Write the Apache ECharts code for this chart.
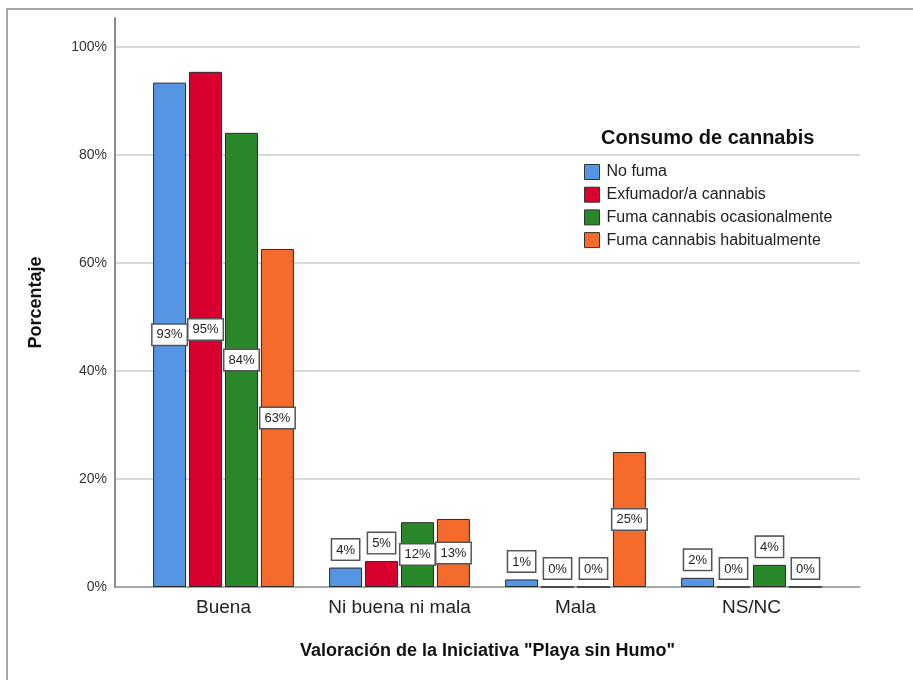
<!DOCTYPE html>
<html>
<head>
<meta charset="utf-8">
<script src="https://cdn.jsdelivr.net/npm/echarts@6/dist/echarts.min.js"></script>
<style>
  html, body { margin: 0; padding: 0; background: #fff; }
  #chart { width: 913px; height: 680px; }
</style>
</head>
<body>
<div id="chart"></div>
<script>
// categorías del eje X
const categories = ['Buena', 'Ni buena ni mala', 'Mala', 'NS/NC'];
const seriesNames = ['No fuma', 'Exfumador/a cannabis', 'Fuma cannabis ocasionalmente', 'Fuma cannabis habitualmente'];
const colors = ['#5595e4', '#d9002f', '#2b872b', '#f46b2b'];

// porcentajes por grupo
const noFuma = [93.4, 3.6, 1.4, 1.7];
const exfumador = [95.4, 4.8, 0, 0];
const ocasional = [84.1, 12.0, 0, 4.1];
const habitual = [62.6, 12.6, 25.0, 0];

const yTicks = [0, 20, 40, 60, 80, 100];

const chart = echarts.init(document.getElementById('chart'));
const font = '"Liberation Sans", Arial, sans-serif';

// eje Y llega un poco por encima del 100%
const yTop = 105.37;

function buildSeries(name, values, color) {
  return {
    name: name,
    type: 'bar',
    xAxisIndex: 1,
    yAxisIndex: 1,
    barCategoryGap: '20%',
    barGap: '9%',
    itemStyle: { color: color, borderColor: '#2a2a2a', borderWidth: 1 },
    emphasis: { disabled: true },
    label: {
      show: true,
      formatter: p => Math.round(p.value) + '%',
      fontFamily: font,
      fontSize: 13,
      color: '#222',
      backgroundColor: '#fff',
      borderColor: '#555',
      borderWidth: 1.5,
      padding: [4, 4, 3, 4],
      distance: 8
    },
    data: values.map(v => ({
      value: v,
      label: { position: v >= 10 ? 'inside' : 'top' }
    }))
  };
}

const option = {
  backgroundColor: '#fff',
  animation: false,
  title: {
    text: 'Consumo de cannabis',
    left: 596,
    top: 123,
    textStyle: { fontFamily: font, fontSize: 20, fontWeight: 'bold', color: '#111' }
  },
  legend: {
    orient: 'vertical',
    left: 579,
    top: 159,
    icon: 'rect',
    itemWidth: 15,
    itemHeight: 15,
    itemGap: 6.7,
    data: seriesNames,
    itemStyle: { borderColor: '#333', borderWidth: 1 },
    textStyle: { fontFamily: font, fontSize: 16, color: '#222', padding: [0, 0, 0, 2] }
  },
  graphic: [{
    type: 'rect',
    shape: { x: 7, y: 9, width: 1000, height: 1000 },
    style: { fill: 'none', stroke: '#a8a8a8', lineWidth: 2 },
    silent: true
  }],
  grid: [
    { left: 115, right: 53, top: 18, bottom: 93 },
    { left: 135.5, right: 73.5, top: 18, bottom: 93 }
  ],
  xAxis: [{
    gridIndex: 0,
    type: 'value',
    min: 0,
    max: 1,
    axisLine: { show: true, lineStyle: { color: '#8a8a8a', width: 1.5 } },
    axisTick: { show: false },
    axisLabel: { show: false },
    splitLine: { show: false }
  }, {
    gridIndex: 1,
    type: 'category',
    data: categories,
    axisLine: { show: false },
    axisTick: { show: false },
    axisLabel: { interval: 0, fontFamily: font, fontSize: 19, color: '#222', margin: 11 },
    name: 'Valoración de la Iniciativa "Playa sin Humo"',
    nameLocation: 'middle',
    nameGap: 55,
    nameTextStyle: { fontFamily: font, fontSize: 18, fontWeight: 'bold', color: '#111' }
  }],
  yAxis: [{
    gridIndex: 0,
    type: 'value',
    min: 0,
    max: yTop,
    interval: 20,
    axisLine: { show: true, lineStyle: { color: '#8a8a8a', width: 2 } },
    axisTick: { show: false },
    axisLabel: {
      showMaxLabel: false,
      fontFamily: font,
      fontSize: 14,
      color: '#333',
      margin: 8,
      formatter: v => (yTicks.indexOf(v) >= 0 ? v + '%' : '')
    },
    splitLine: { show: true, showMaxLine: false, showMinLine: false, lineStyle: { color: '#cccccc', width: 1.5 } },
    name: 'Porcentaje',
    nameLocation: 'middle',
    nameGap: 70,
    nameTextStyle: { fontFamily: font, fontSize: 18, fontWeight: 'bold', color: '#111' }
  }, {
    gridIndex: 1,
    type: 'value',
    min: 0,
    max: yTop,
    show: false
  }],
  series: [
    buildSeries(seriesNames[0], noFuma, colors[0]),
    buildSeries(seriesNames[1], exfumador, colors[1]),
    buildSeries(seriesNames[2], ocasional, colors[2]),
    buildSeries(seriesNames[3], habitual, colors[3])
  ]
};

chart.setOption(option);
</script>
</body>
</html>
